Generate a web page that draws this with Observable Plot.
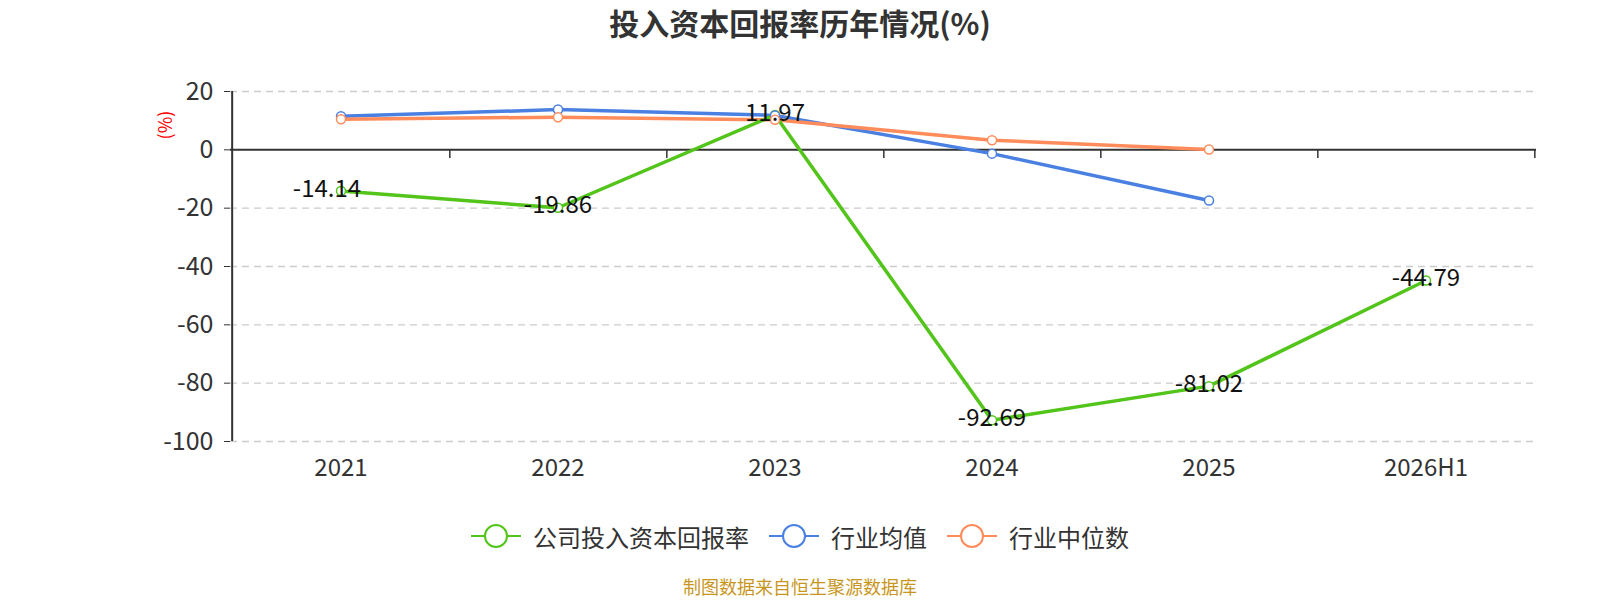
<!DOCTYPE html>
<html>
<head>
<meta charset="utf-8">
<script src="https://cdn.jsdelivr.net/npm/d3@7"></script>
<script src="https://cdn.jsdelivr.net/npm/@observablehq/plot@0.6"></script>
<style>
  body { margin: 0; background: #fff; font-family: "Noto Sans CJK SC", "Noto Sans", sans-serif; }
  #wrap { width: 1600px; height: 600px; position: relative; overflow: hidden; }
  #title { width: 1600px; height: 45px; line-height: 45px; text-align: center; font-size: 30px; font-weight: bold; color: #333; }
  #legend { display: flex; justify-content: center; align-items: center; gap: 20px; margin-top: 26px; height: 30px; font-size: 24px; color: #333; }
  .item { display: flex; align-items: center; gap: 12px; }
  #caption { margin-top: 25px; text-align: center; font-size: 18px; line-height: 20px; color: #c8961e; }
</style>
</head>
<body>
<div id="wrap">
  <div id="title">投入资本回报率历年情况(%)</div>
  <div id="chart"></div>
  <div id="legend"></div>
  <div id="caption">制图数据来自恒生聚源数据库</div>
</div>
<script>
const categories = ["2021", "2022", "2023", "2024", "2025", "2026H1"];
const seriesNames = ["公司投入资本回报率", "行业均值", "行业中位数"];
const seriesColors = ["#52c41a", "#4a80e2", "#ff8c5a"];
const companyValues = [-14.14, -19.86, 11.97, -92.69, -81.02, -44.79];
const meanValues = [11.5, 13.8, 11.8, -1.3, -17.4, null];
const medianValues = [10.5, 11.2, 10.3, 3.3, 0.1, null];
const yTicks = [20, 0, -20, -40, -60, -80, -100];

const allSeries = [companyValues, meanValues, medianValues];
const rows = [];
allSeries.forEach((vals, si) => {
  vals.forEach((v, i) => {
    if (v !== null) rows.push({ cat: categories[i], idx: i, value: v, series: seriesNames[si] });
  });
});
const companyRows = rows.filter(d => d.series === seriesNames[0]);

const width = 1600, height = 450, mL = 230, mR = 64, mT = 46, mB = 54;
const half = (width - mL - mR) / categories.length / 2;
const font = '"Noto Sans CJK SC", "Noto Sans", sans-serif';

const plot = Plot.plot({
  width, height,
  marginLeft: mL, marginRight: mR, marginTop: mT, marginBottom: mB,
  style: { fontFamily: font, color: "#333", background: "#fff" },
  x: { type: "band", domain: categories, padding: 0, label: null },
  y: { domain: [-100, 20], label: null },
  color: { domain: seriesNames, range: seriesColors },
  marks: [
    Plot.gridY(yTicks.filter(t => t !== 0), { stroke: "#ccc", strokeOpacity: 1, strokeDasharray: "7,5", strokeWidth: 1.3 }),
    Plot.axisY(yTicks, { tickSize: 6, tickPadding: 11, fontSize: 25, fill: "#333", stroke: "#333", tickFormat: d => String(d), label: null }),
    Plot.axisX({ anchor: "bottom", tickSize: 0, tickPadding: 17, fontSize: 24, fill: "#333", label: null }),
    Plot.ruleY([0], { stroke: "#333", strokeWidth: 2 }),
    Plot.ruleX([categories[0]], { dx: -half, y1: -100, y2: 20, stroke: "#333", strokeWidth: 2 }),
    Plot.ruleX(categories, { dx: half, y1: 0, y2: -3, stroke: "#333", strokeWidth: 1.5 }),
    Plot.text(["(%)"], { frameAnchor: "top-left", dx: -64, dy: 33.5, rotate: -90, fill: "red", fontSize: 18, textAnchor: "middle", lineAnchor: "middle" }),
    Plot.line(rows.filter(d => d.series !== seriesNames[0]), { x: "cat", y: "value", z: "series", stroke: "series", strokeWidth: 3.5 }),
    Plot.line(companyRows, { x: "cat", y: "value", stroke: "series", strokeWidth: 3.5 }),
    Plot.dot(rows, { x: "cat", y: "value", stroke: "series", fill: "white", r: 4.5, strokeWidth: 1.5 }),
    Plot.text(companyRows.filter(d => d.idx === 0), { x: "cat", y: "value", text: d => d.value.toFixed(2), fill: "#111", fontSize: 24, dy: -2, dx: -14, lineAnchor: "middle" }),
    Plot.text(companyRows.filter(d => d.idx !== 0), { x: "cat", y: "value", text: d => d.value.toFixed(2), fill: "#111", fontSize: 24, dy: -2, lineAnchor: "middle" })
  ]
});
document.getElementById("chart").appendChild(plot);

const legend = document.getElementById("legend");
seriesNames.forEach((name, i) => {
  const item = document.createElement("div");
  item.className = "item";
  item.innerHTML = `<svg width="50" height="26"><line x1="0" y1="13" x2="50" y2="13" stroke="${seriesColors[i]}" stroke-width="2"/><circle cx="25" cy="13" r="11" fill="white" stroke="${seriesColors[i]}" stroke-width="2"/></svg><span>${name}</span>`;
  legend.appendChild(item);
});
</script>
</body>
</html>
